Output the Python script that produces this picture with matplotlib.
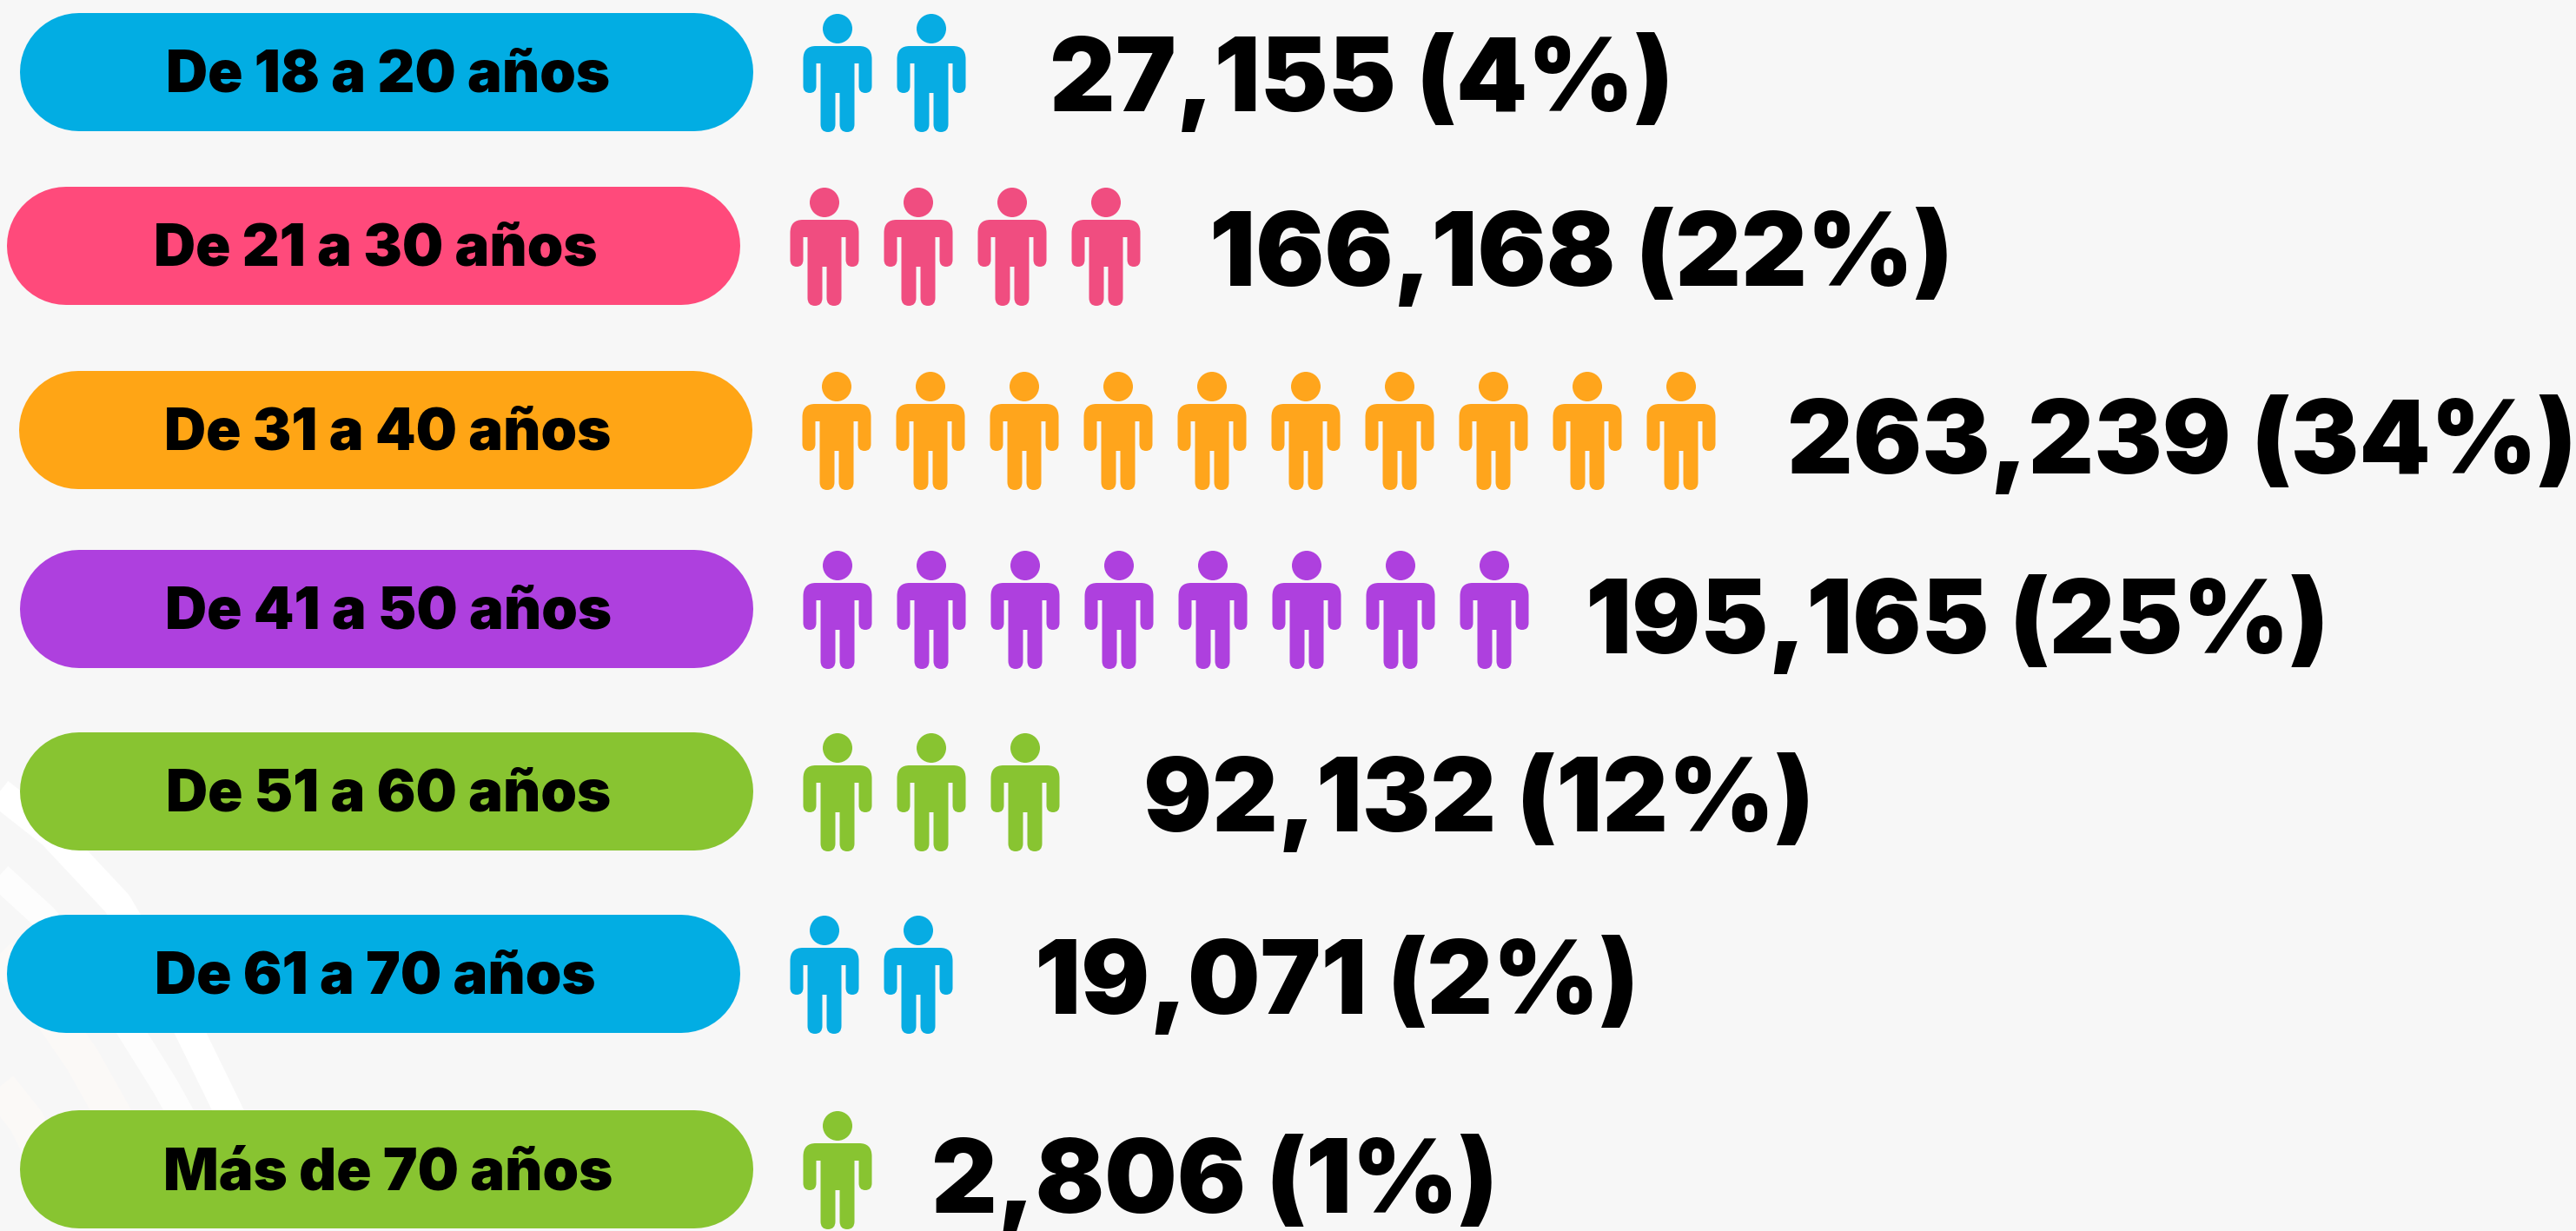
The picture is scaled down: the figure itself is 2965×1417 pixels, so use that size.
import matplotlib
matplotlib.use('Agg')
import matplotlib.pyplot as plt
from matplotlib.path import Path
from matplotlib.patches import PathPatch
from matplotlib.transforms import Affine2D

plt.rcParams['font.family'] = ['Inter', 'DejaVu Sans']

# data
ages = ['De 18 a 20 años', 'De 21 a 30 años', 'De 31 a 40 años', 'De 41 a 50 años',
        'De 51 a 60 años', 'De 61 a 70 años', 'Más de 70 años']
people = [27155, 166168, 263239, 195165, 92132, 19071, 2806]
percent = [4, 22, 34, 25, 12, 2, 1]
icons = [2, 4, 10, 8, 3, 2, 1]
pill_colors = ['#02ADE3', '#FF4A7B', '#FFA515', '#AE40DE', '#88C431', '#02ADE3', '#88C431']
icon_colors = ['#07ACE3', '#F04D80', '#FFA51C', '#AE40DE', '#88C431', '#07ACE3', '#88C431']

# layout, in pixels of the reference
pill_left = [23, 8, 22, 23, 23, 8, 23]
pill_top = [15, 215, 427, 633, 843, 1053, 1278]
pill_w, pill_h = 844, 136
value_left = [1208, 1392, 2057, 1825, 1316, 1191, 1072]
value_base = [128, 329, 545, 752, 957, 1167, 1396]
icon_step = 108


def person_path():
    # head and body around x=0, y=0 at the top of the head
    L = Path.LINETO
    C = Path.CURVE3
    pts = [(-25, 37), (-39.5, 37), (-39.5, 52), (-39.5, 83), (-39.5, 91), (-32, 91), (-24.5, 91), (-24.5, 83),
           (-24.5, 57), (-19.5, 57), (-19.5, 127), (-19.5, 136), (-11, 136), (-2.5, 136), (-2.5, 127),
           (-2.5, 91), (2.5, 91), (2.5, 127), (2.5, 136), (11, 136), (19.5, 136), (19.5, 127),
           (19.5, 57), (24.5, 57), (24.5, 83), (24.5, 91), (32, 91), (39.5, 91), (39.5, 83),
           (39.5, 52), (39.5, 37), (25, 37), (-25, 37)]
    codes = [Path.MOVETO, C, C, L, C, C, C, C,
             L, L, L, C, C, C, C,
             L, L, L, C, C, C, C,
             L, L, L, C, C, C, C,
             L, C, C, Path.CLOSEPOLY]
    body = Path(pts, codes)
    head = Path.circle((0, 17), 17)
    return Path.make_compound_path(head, body)


fig = plt.figure(figsize=(29.65, 14.17), dpi=100, facecolor='#F7F7F7')
ax = fig.add_axes([0, 0, 1, 1])
ax.set_xlim(0, 2965)
ax.set_ylim(1417, 0)
ax.axis('off')

# faint bands in the lower left corner
ax.plot([-10, 60, 135, 200, 262, 310], [905, 960, 1040, 1150, 1277, 1380],
        color='white', lw=24, solid_capstyle='butt', zorder=1)
ax.plot([-10, 50, 115, 190, 240], [1000, 1055, 1130, 1250, 1340],
        color='white', lw=22, alpha=.8, solid_capstyle='butt', zorder=1)
ax.plot([-10, 40, 95, 140], [1090, 1140, 1220, 1300],
        color='#FBF9F7', lw=30, solid_capstyle='butt', zorder=1)
ax.plot([-10, 30, 70], [1240, 1290, 1370],
        color='#FBF9F7', lw=30, solid_capstyle='butt', zorder=1)

shape = person_path()
for i, age in enumerate(ages):
    r = pill_h / 2
    # pill is one thick line with round caps
    ax.plot([pill_left[i] + r, pill_left[i] + pill_w - r], [pill_top[i] + r, pill_top[i] + r],
            color=pill_colors[i], lw=pill_h * 72 / 100, solid_capstyle='round', zorder=2)
    ax.text(pill_left[i] + pill_w / 2 + 2, pill_top[i] + r + 23, age, ha='center', va='baseline',
            fontsize=48, fontweight='black', color='black', zorder=3)

    first = pill_left[i] + 941
    for k in range(icons[i]):
        tr = Affine2D().translate(first + k * icon_step, pill_top[i] + 1) + ax.transData
        ax.add_patch(PathPatch(shape, fc=icon_colors[i], ec='none', transform=tr, zorder=2))

    ax.text(value_left[i], value_base[i], '{:,} ({}%)'.format(people[i], percent[i]),
            ha='left', va='baseline', fontsize=84.5, fontweight='black', color='black', zorder=3)

fig.savefig('out.png', dpi=100, facecolor=fig.get_facecolor())
